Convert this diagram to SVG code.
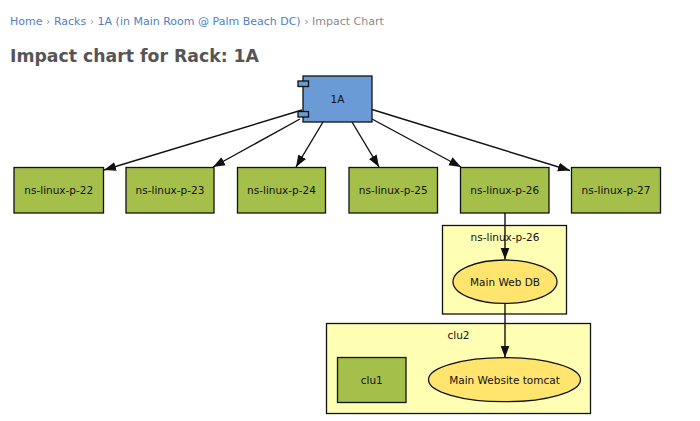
<svg xmlns="http://www.w3.org/2000/svg" width="700" height="421" viewBox="0 0 700 421">
<style>
.crumb{font-family:"DejaVu Sans",Verdana,sans-serif;font-size:11px;fill:#4f7fbf}
.sep{fill:#999}
.cur{fill:#8a8a8a}
.title{font-family:"DejaVu Sans",Verdana,sans-serif;font-size:17.3px;font-weight:bold;fill:#555}
.lbl{font-family:"DejaVu Sans",Verdana,sans-serif;font-size:10.5px;fill:#111;text-anchor:middle}
.host{fill:#a5bf4b;stroke:#111;stroke-width:1.3}
.rack{fill:#6b9bd6;stroke:#111;stroke-width:1.3}
.clus{fill:#ffffb3;stroke:#111;stroke-width:1.3}
.svc{fill:#ffe46e;stroke:#111;stroke-width:1.3}
.edge{fill:none;stroke:#111;stroke-width:1.4}
</style>
<defs>
<marker id="ah" viewBox="0 0 12 10" refX="12" refY="5" markerWidth="12" markerHeight="10" markerUnits="userSpaceOnUse" orient="auto">
<path d="M0,0.5 L12,5 L0,9.5 Z" fill="#111"/>
</marker>
</defs>
<rect width="700" height="421" fill="#fff"/>
<text class="crumb" x="10" y="24.5">Home <tspan class="sep">›</tspan> Racks <tspan class="sep">›</tspan> 1A (in Main Room @ Palm Beach DC) <tspan class="cur">› Impact Chart</tspan></text>
<text class="title" x="10" y="62">Impact chart for Rack: 1A</text>

<g id="cluster-ns-linux-p-26">
<rect class="clus" x="442.5" y="225.5" width="124" height="88.5"/>
<text class="lbl" x="505" y="241">ns-linux-p-26</text>
</g>
<g id="cluster-clu2">
<rect class="clus" x="326.5" y="323.5" width="264" height="90"/>
<text class="lbl" x="458.5" y="338.5">clu2</text>
</g>

<g id="connectors">
<path class="edge" marker-end="url(#ah)" d="M302,110 L104,170"/>
<path class="edge" marker-end="url(#ah)" d="M300,119 L213,167"/>
<path class="edge" marker-end="url(#ah)" d="M323,122 L296,167"/>
<path class="edge" marker-end="url(#ah)" d="M352,122 L379,167"/>
<path class="edge" marker-end="url(#ah)" d="M372,119 L461,167"/>
<path class="edge" marker-end="url(#ah)" d="M372,109.5 L570,170.5"/>
<path class="edge" marker-end="url(#ah)" d="M505,213 L505,259.5"/>
<path class="edge" marker-end="url(#ah)" d="M505,303.5 L505,357.5"/>
</g>

<g id="node-1A">
<rect class="rack" x="303" y="76" width="69" height="46"/>
<rect class="rack" x="298" y="81" width="10.5" height="5.5" stroke-width="1"/>
<rect class="rack" x="298" y="111.5" width="10.5" height="5.5" stroke-width="1"/>
<text class="lbl" x="337.5" y="102.5">1A</text>
</g>
<g id="node-ns-linux-p-22">
<rect class="host" x="14" y="167.5" width="89.5" height="45.5"/>
<text class="lbl" x="58.75" y="194">ns-linux-p-22</text>
</g>
<g id="node-ns-linux-p-23">
<rect class="host" x="126" y="167.5" width="88" height="45.5"/>
<text class="lbl" x="170" y="194">ns-linux-p-23</text>
</g>
<g id="node-ns-linux-p-24">
<rect class="host" x="237.5" y="167.5" width="88" height="45.5"/>
<text class="lbl" x="281.5" y="194">ns-linux-p-24</text>
</g>
<g id="node-ns-linux-p-25">
<rect class="host" x="349" y="167.5" width="88.5" height="45.5"/>
<text class="lbl" x="393.25" y="194">ns-linux-p-25</text>
</g>
<g id="node-ns-linux-p-26">
<rect class="host" x="460.5" y="167.5" width="88.5" height="45.5"/>
<text class="lbl" x="504.75" y="194">ns-linux-p-26</text>
</g>
<g id="node-ns-linux-p-27">
<rect class="host" x="571.5" y="167.5" width="89" height="45.5"/>
<text class="lbl" x="616" y="194">ns-linux-p-27</text>
</g>
<g id="node-main-web-db">
<ellipse class="svc" cx="505" cy="281.7" rx="52" ry="21.7"/>
<text class="lbl" x="505" y="285.5">Main Web DB</text>
</g>
<g id="node-clu1">
<rect class="host" x="337.5" y="357.5" width="68.5" height="45"/>
<text class="lbl" x="371.75" y="383.5">clu1</text>
</g>
<g id="node-main-website-tomcat">
<ellipse class="svc" cx="504.5" cy="379.7" rx="76" ry="22"/>
<text class="lbl" x="504.5" y="383.5">Main Website tomcat</text>
</g>
</svg>
